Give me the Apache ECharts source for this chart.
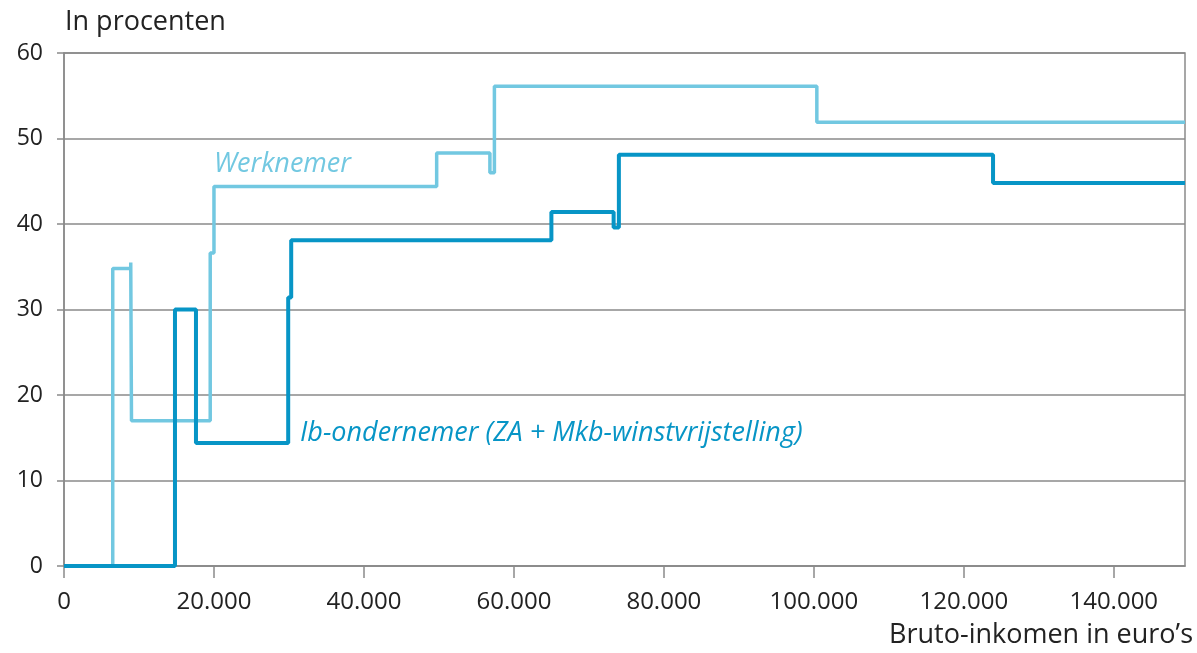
<!DOCTYPE html>
<html>
<head>
<meta charset="utf-8">
<script src="https://cdn.jsdelivr.net/npm/echarts@6/dist/echarts.min.js"></script>
<style>
html, body { margin: 0; padding: 0; background: #fff; }
#chart { width: 1197px; height: 653px; }
</style>
</head>
<body>
<div id="chart"></div>
<script>
// Werknemer: marginale druk per bruto-inkomen (treden, incl. verticale sprongen)
var werknemerX = [0, 6500, 6500, 8900, 8900, 9000, 9000, 19500, 19500, 20000, 20000, 49700, 49700, 56800, 56800, 57400, 57400, 100400, 100400, 149500];
var werknemerY = [0, 0, 34.8, 34.8, 35.5, 35.5, 17, 17, 36.6, 36.6, 44.4, 44.4, 48.3, 48.3, 46, 46, 56.1, 56.1, 51.9, 51.9];

// Ib-ondernemer (ZA + Mkb-winstvrijstelling)
var ondernemerX = [0, 14800, 14800, 17600, 17600, 29900, 29900, 30300, 30300, 65000, 65000, 73300, 73300, 74000, 74000, 123900, 123900, 149500];
var ondernemerY = [0, 0, 30, 30, 14.4, 14.4, 31.4, 31.4, 38.1, 38.1, 41.4, 41.4, 39.6, 39.6, 48.1, 48.1, 44.8, 44.8];

var xTicks = [0, 20000, 40000, 60000, 80000, 100000, 120000, 140000];
var yTicks = [0, 10, 20, 30, 40, 50, 60];

function pairs (xs, ys) {
  var out = []
  for (var i = 0; i < xs.length; i++) {
    out.push([xs[i], ys[i]])
  }
  return out
}

var lightBlue = '#72c8e1'
var darkBlue = '#0795c6'
var axisGrey = '#8a8a8a'
var fontFam = '"Open Sans", Lato, sans-serif'

var chart = echarts.init(document.getElementById('chart'))
var option = {
  animation: false,
  grid: {
    left: 64, right: 12, top: 53, bottom: 87,
    show: true, borderColor: axisGrey, borderWidth: 1.5
  },
  xAxis: {
    type: 'value',
    min: 0,
    max: 149500,
    interval: 20000,
    splitLine: { show: false },
    axisLine: { show: true, lineStyle: { color: axisGrey, width: 1.5 } },
    axisTick: { show: true, length: 12, lineStyle: { color: axisGrey, width: 1.5 } },
    axisLabel: {
      showMaxLabel: false,
      margin: 24,
      color: '#222',
      fontSize: 24,
      fontFamily: fontFam,
      formatter: function (v) {
        return xTicks.indexOf(v) < 0 ? '' : (v === 0 ? '0' : (v / 1000) + '.000')
      }
    }
  },
  yAxis: {
    type: 'value',
    min: 0,
    max: 60,
    interval: 10,
    splitLine: { show: true, lineStyle: { color: axisGrey, width: 1.5 } },
    axisLine: { show: true, lineStyle: { color: axisGrey, width: 1.5 } },
    axisTick: { show: true, length: 7, lineStyle: { color: axisGrey, width: 1.5 } },
    axisLabel: {
      margin: 21,
      color: '#222',
      fontSize: 23,
      fontFamily: fontFam,
      formatter: function (v) { return yTicks.indexOf(v) < 0 ? '' : String(v) }
    }
  },
  graphic: [
    {
      type: 'text', left: 65, top: 9,
      style: { text: 'In procenten', fill: '#222', font: '27px ' + fontFam }
    },
    {
      type: 'text', right: 4, top: 622,
      style: { text: 'Bruto-inkomen in euro’s', fill: '#222', font: '27px ' + fontFam }
    },
    {
      type: 'text', left: 214, top: 151,
      style: { text: 'Werknemer', fill: lightBlue, font: 'italic 27px ' + fontFam }
    },
    {
      type: 'text', left: 300, top: 420,
      style: { text: 'Ib-ondernemer (ZA + Mkb-winstvrijstelling)', fill: darkBlue, font: 'italic 27px ' + fontFam }
    }
  ],
  series: [
    {
      name: 'Werknemer',
      type: 'line',
      data: pairs(werknemerX, werknemerY),
      showSymbol: false,
      lineStyle: { color: lightBlue, width: 3.5 },
      z: 3
    },
    {
      name: 'Ib-ondernemer',
      type: 'line',
      data: pairs(ondernemerX, ondernemerY),
      showSymbol: false,
      lineStyle: { color: darkBlue, width: 4 },
      z: 4
    }
  ]
}
chart.setOption(option)
</script>
</body>
</html>
